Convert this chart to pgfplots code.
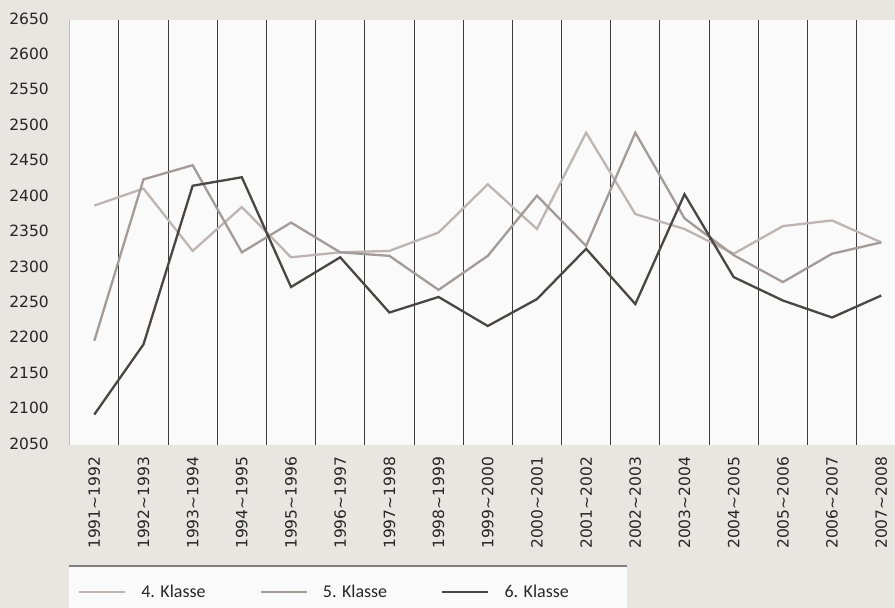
\documentclass[border=0pt]{standalone}
\usepackage{fontspec}
\setmainfont{DejaVu Sans}
\newfontfamily\legendfont{Carlito}
\usepackage{pgfplots}
\pgfplotsset{compat=1.18}
\definecolor{bgc}{HTML}{E9E6E2}
\definecolor{plotbg}{HTML}{FAFAFA}
\definecolor{cfour}{HTML}{BDB5B1}
\definecolor{cfive}{HTML}{A39B98}
\definecolor{csix}{HTML}{4A4644}
\definecolor{gridc}{HTML}{3C3C3C}
\begin{document}
\begin{tikzpicture}
\path[use as bounding box, fill=bgc] (0pt,0pt) rectangle (895pt,608pt);
\fill[plotbg] (69pt,0pt) rectangle (627pt,42pt);
\draw[line width=2pt, color=black!50] (69pt,42pt) -- (627pt,42pt);
\begin{axis}[
  at={(69.7pt,163pt)}, anchor=south west,
  scale only axis, width=825.3pt, height=425pt,
  xmin=-0.5, xmax=16.28, ymin=2050, ymax=2650,
  axis background/.style={fill=plotbg},
  axis line style={draw=none},
  major tick length=0pt,
  ytick={2050,2100,...,2650},
  xtick={0,...,16},
  xticklabels={1991\textasciitilde1992,1992\textasciitilde1993,1993\textasciitilde1994,1994\textasciitilde1995,1995\textasciitilde1996,1996\textasciitilde1997,1997\textasciitilde1998,1998\textasciitilde1999,1999\textasciitilde2000,2000\textasciitilde2001,2001\textasciitilde2002,2002\textasciitilde2003,2003\textasciitilde2004,2004\textasciitilde2005,2005\textasciitilde2006,2006\textasciitilde2007,2007\textasciitilde2008},
  extra x ticks={0.5,1.5,...,15.5},
  extra x tick labels={},
  extra x tick style={grid=major, major grid style={gridc, line width=0.9pt}},
  /pgf/number format/assume math mode=true,
  /pgf/number format/1000 sep={},
  tick label style={font=\fontsize{15.5}{18}\selectfont, text=black!85},
  yticklabel style={anchor=east, inner sep=0pt, xshift=-20.7pt, yshift=1.5pt},
  xticklabel style={yshift=-11.7pt, rotate=90, anchor=east, inner sep=0pt},
  legend columns=3,
  legend style={at={(0.010,-0.3459)}, anchor=west, draw=none, fill=none,
    inner sep=0pt, outer sep=0pt,
    font=\legendfont\fontsize{18}{20}\selectfont,
    nodes={inner sep=0pt, text=black!85},
    /tikz/every odd column/.append style={column sep=15pt},
    /tikz/every even column/.append style={column sep=54pt}},
  legend image code/.code={\draw[#1, line width=2.4pt] (0pt,0pt) -- (46pt,0pt);},
  every axis plot/.append style={line width=2.3pt, line join=miter},
]
\addplot[cfour, no markers] coordinates {(0,2388) (1,2412) (2,2324) (3,2386) (4,2315) (5,2322) (6,2324) (7,2350) (8,2418) (9,2355) (10,2491) (11,2376) (12,2355) (13,2320) (14,2359) (15,2367) (16,2336)};
\addlegendentry{4. Klasse}
\addplot[cfive, no markers] coordinates {(0,2197) (1,2425) (2,2445) (3,2322) (4,2364) (5,2322) (6,2317) (7,2269) (8,2317) (9,2402) (10,2331) (11,2491) (12,2370) (13,2318) (14,2280) (15,2320) (16,2336)};
\addlegendentry{5. Klasse}
\addplot[csix, no markers] coordinates {(0,2093) (1,2192) (2,2416) (3,2428) (4,2273) (5,2315) (6,2237) (7,2259) (8,2218) (9,2256) (10,2327) (11,2249) (12,2404) (13,2287) (14,2254) (15,2230) (16,2261)};
\addlegendentry{6. Klasse}
\draw[black!55, line width=1.2pt] (axis cs:-0.5,2050) -- (axis cs:-0.5,2650);
\end{axis}
\end{tikzpicture}
\end{document}
